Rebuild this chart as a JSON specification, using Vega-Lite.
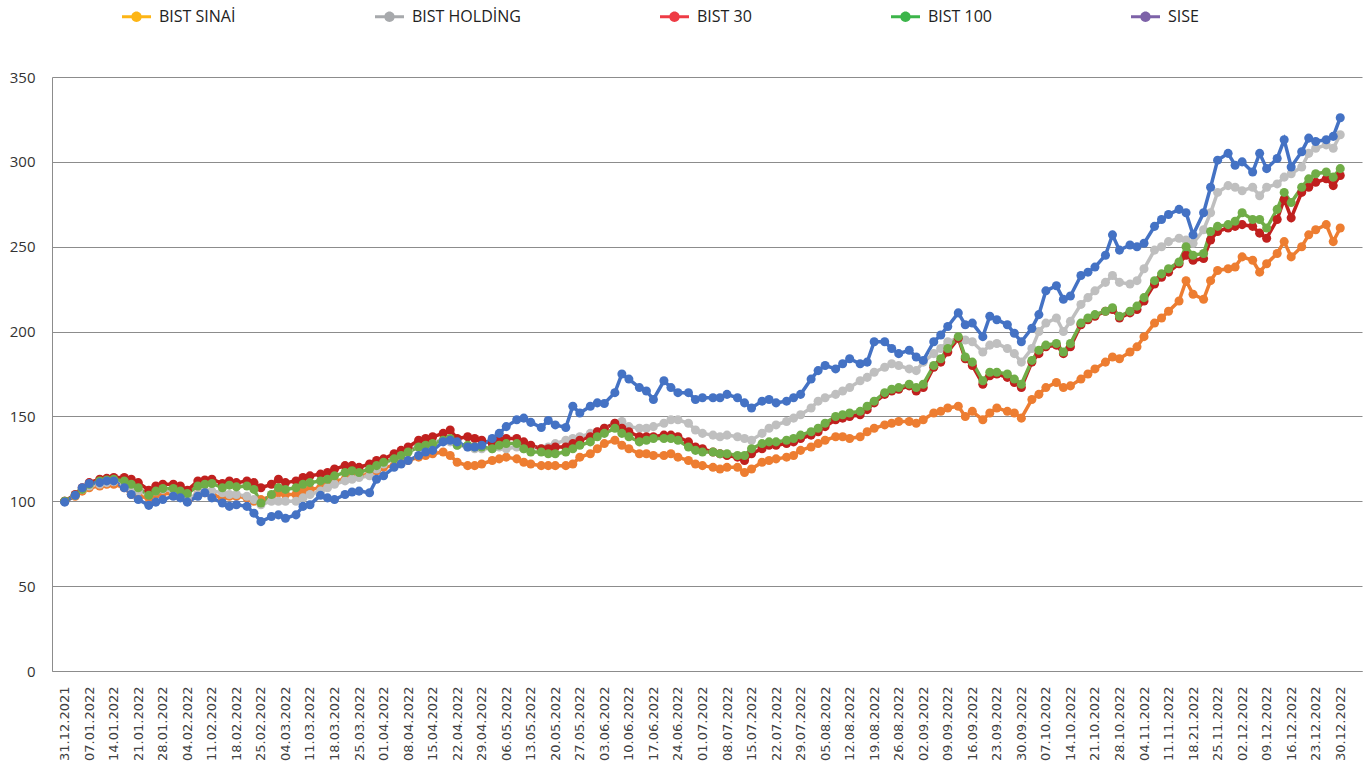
{
"$schema":"https://vega.github.io/schema/vega-lite/v6.json",
"width":1310,"height":594,
"autosize":{"type":"none"},
"padding":{"left":52,"top":77,"right":8,"bottom":98},
"background":"white",
"config":{"view":{"stroke":null}},
"datasets":{
"names":[{"n":"BIST SINAİ"},{"n":"BIST HOLDİNG"},{"n":"BIST 30"},{"n":"BIST 100"},{"n":"SISE"}],
"idx":[
{"x":"2021-12-31","a":100,"b":100,"c":100,"d":100,"e":99.5},
{"x":"2022-01-03","a":103,"b":103.5,"c":104,"d":103.5,"e":103.5},
{"x":"2022-01-05","a":106,"b":107,"c":108,"d":107,"e":108},
{"x":"2022-01-07","a":108,"b":109,"c":111,"d":110,"e":110.5},
{"x":"2022-01-10","a":109,"b":110,"c":113,"d":112,"e":111},
{"x":"2022-01-12","a":110,"b":111,"c":113.5,"d":112.5,"e":112},
{"x":"2022-01-14","a":110,"b":111.5,"c":114,"d":113,"e":112},
{"x":"2022-01-17","a":108,"b":110,"c":114,"d":112,"e":108},
{"x":"2022-01-19","a":104,"b":108,"c":113,"d":110,"e":104},
{"x":"2022-01-21","a":103,"b":106,"c":111,"d":108,"e":101},
{"x":"2022-01-24","a":102,"b":104,"c":106.5,"d":103.5,"e":97.6},
{"x":"2022-01-26","a":104,"b":106,"c":109,"d":106,"e":99.5},
{"x":"2022-01-28","a":105,"b":107,"c":110,"d":107.5,"e":101},
{"x":"2022-01-31","a":104,"b":106,"c":110,"d":107.5,"e":103},
{"x":"2022-02-02","a":103,"b":105,"c":109,"d":106,"e":102},
{"x":"2022-02-04","a":100,"b":102,"c":106.5,"d":104.5,"e":99.5},
{"x":"2022-02-07","a":104,"b":104,"c":112,"d":109,"e":103},
{"x":"2022-02-09","a":105,"b":106,"c":112.5,"d":110,"e":105},
{"x":"2022-02-11","a":104,"b":106,"c":113,"d":110.5,"e":102},
{"x":"2022-02-14","a":102,"b":105,"c":110.5,"d":108,"e":99},
{"x":"2022-02-16","a":103,"b":104,"c":112,"d":109.5,"e":97},
{"x":"2022-02-18","a":103,"b":104,"c":111,"d":108.5,"e":98},
{"x":"2022-02-21","a":102,"b":103,"c":112,"d":109,"e":97},
{"x":"2022-02-23","a":100,"b":101,"c":111,"d":107,"e":93},
{"x":"2022-02-25","a":101,"b":98,"c":108,"d":99,"e":88},
{"x":"2022-02-28","a":103,"b":100,"c":110,"d":104,"e":91},
{"x":"2022-03-02","a":105,"b":100,"c":113,"d":108,"e":92},
{"x":"2022-03-04","a":104,"b":100,"c":111,"d":107,"e":90},
{"x":"2022-03-07","a":104,"b":100,"c":112,"d":108,"e":92},
{"x":"2022-03-09","a":106,"b":102,"c":114,"d":110,"e":97},
{"x":"2022-03-11","a":107,"b":104,"c":115,"d":111,"e":98},
{"x":"2022-03-14","a":108,"b":106,"c":116,"d":112,"e":103.5},
{"x":"2022-03-16","a":110,"b":108,"c":117,"d":113,"e":102},
{"x":"2022-03-18","a":112,"b":110,"c":119,"d":115,"e":101},
{"x":"2022-03-21","a":113,"b":112,"c":121,"d":117,"e":104},
{"x":"2022-03-23","a":114,"b":113,"c":121,"d":118,"e":105.5},
{"x":"2022-03-25","a":115,"b":114,"c":120,"d":117,"e":106},
{"x":"2022-03-28","a":116,"b":115,"c":122,"d":119,"e":105},
{"x":"2022-03-30","a":118,"b":119,"c":124,"d":121,"e":113},
{"x":"2022-04-01","a":120,"b":122,"c":125,"d":123,"e":115},
{"x":"2022-04-04","a":121,"b":125,"c":128,"d":125,"e":120},
{"x":"2022-04-06","a":123,"b":127,"c":130,"d":127,"e":122},
{"x":"2022-04-08","a":124,"b":130,"c":132,"d":129,"e":124},
{"x":"2022-04-11","a":126,"b":132,"c":136,"d":132,"e":127},
{"x":"2022-04-13","a":127,"b":134,"c":137,"d":133,"e":129},
{"x":"2022-04-15","a":128,"b":135,"c":138,"d":134,"e":130},
{"x":"2022-04-18","a":129,"b":136,"c":140,"d":136,"e":135},
{"x":"2022-04-20","a":127,"b":135,"c":142,"d":137,"e":136},
{"x":"2022-04-22","a":123,"b":133,"c":137,"d":133,"e":135},
{"x":"2022-04-25","a":121,"b":132,"c":138,"d":133,"e":132},
{"x":"2022-04-27","a":121,"b":131,"c":137,"d":132,"e":132},
{"x":"2022-04-29","a":122,"b":131,"c":136,"d":132,"e":133},
{"x":"2022-05-02","a":124,"b":131,"c":134,"d":131,"e":137},
{"x":"2022-05-04","a":125,"b":132,"c":136,"d":133,"e":140},
{"x":"2022-05-06","a":126,"b":131,"c":137,"d":134,"e":144},
{"x":"2022-05-09","a":125,"b":132,"c":137,"d":134,"e":148},
{"x":"2022-05-11","a":123,"b":131,"c":135,"d":131,"e":149},
{"x":"2022-05-13","a":122,"b":132,"c":133,"d":129,"e":146.5},
{"x":"2022-05-16","a":121,"b":131,"c":131,"d":129,"e":143.5},
{"x":"2022-05-18","a":121,"b":132,"c":131,"d":128,"e":147.6},
{"x":"2022-05-20","a":121,"b":134,"c":132,"d":128,"e":145},
{"x":"2022-05-23","a":121,"b":136,"c":132,"d":129,"e":143.5},
{"x":"2022-05-25","a":122,"b":137,"c":134,"d":131,"e":156},
{"x":"2022-05-27","a":126,"b":138,"c":136,"d":133,"e":152},
{"x":"2022-05-30","a":128,"b":140,"c":138,"d":135,"e":156},
{"x":"2022-06-01","a":131,"b":141,"c":141,"d":138,"e":158},
{"x":"2022-06-03","a":134,"b":143,"c":143,"d":140,"e":157.6},
{"x":"2022-06-06","a":136,"b":146,"c":146,"d":143,"e":164},
{"x":"2022-06-08","a":133,"b":147,"c":143,"d":140,"e":175},
{"x":"2022-06-10","a":131,"b":144,"c":141,"d":138,"e":172},
{"x":"2022-06-13","a":128,"b":143,"c":138,"d":135,"e":167},
{"x":"2022-06-15","a":128,"b":143,"c":138,"d":136,"e":165},
{"x":"2022-06-17","a":127,"b":144,"c":138,"d":137,"e":160},
{"x":"2022-06-20","a":127,"b":146,"c":139,"d":137,"e":171},
{"x":"2022-06-22","a":128,"b":148,"c":139,"d":137,"e":167},
{"x":"2022-06-24","a":126,"b":148,"c":138,"d":136,"e":164},
{"x":"2022-06-27","a":124,"b":146,"c":135,"d":132,"e":164},
{"x":"2022-06-29","a":122,"b":142,"c":132,"d":130,"e":160},
{"x":"2022-07-01","a":121,"b":140,"c":131,"d":129,"e":161},
{"x":"2022-07-04","a":120,"b":139,"c":129,"d":129,"e":161},
{"x":"2022-07-06","a":119,"b":138,"c":128,"d":128,"e":161},
{"x":"2022-07-08","a":120,"b":139,"c":127,"d":128,"e":163},
{"x":"2022-07-11","a":120,"b":138,"c":126,"d":127,"e":161},
{"x":"2022-07-13","a":117,"b":137,"c":124,"d":127,"e":158},
{"x":"2022-07-15","a":119,"b":136,"c":128,"d":131,"e":155},
{"x":"2022-07-18","a":123,"b":140,"c":131,"d":134,"e":159},
{"x":"2022-07-20","a":124,"b":143,"c":133,"d":135,"e":160},
{"x":"2022-07-22","a":125,"b":145,"c":133,"d":135,"e":158},
{"x":"2022-07-25","a":126,"b":147,"c":134,"d":136,"e":159},
{"x":"2022-07-27","a":127,"b":149,"c":135,"d":137,"e":161},
{"x":"2022-07-29","a":130,"b":151,"c":137,"d":139,"e":163},
{"x":"2022-08-01","a":132,"b":155,"c":139,"d":141,"e":172},
{"x":"2022-08-03","a":134,"b":159,"c":141,"d":143,"e":177},
{"x":"2022-08-05","a":136,"b":161,"c":144,"d":146,"e":180},
{"x":"2022-08-08","a":138,"b":163,"c":148,"d":150,"e":178},
{"x":"2022-08-10","a":138,"b":165,"c":149,"d":151,"e":181},
{"x":"2022-08-12","a":137,"b":167,"c":150,"d":152,"e":184},
{"x":"2022-08-15","a":138,"b":171,"c":151,"d":153,"e":181},
{"x":"2022-08-17","a":141,"b":173,"c":154,"d":156,"e":182},
{"x":"2022-08-19","a":143,"b":176,"c":158,"d":159,"e":194},
{"x":"2022-08-22","a":145,"b":179,"c":163,"d":164,"e":194},
{"x":"2022-08-24","a":146,"b":181,"c":165,"d":166,"e":190},
{"x":"2022-08-26","a":147,"b":180,"c":166,"d":167,"e":187},
{"x":"2022-08-29","a":147,"b":178,"c":168,"d":169,"e":189},
{"x":"2022-08-31","a":146,"b":177,"c":165,"d":167,"e":185},
{"x":"2022-09-02","a":148,"b":182,"c":167,"d":169,"e":183},
{"x":"2022-09-05","a":152,"b":187,"c":179,"d":180,"e":194},
{"x":"2022-09-07","a":153,"b":190,"c":182,"d":184,"e":198},
{"x":"2022-09-09","a":155,"b":194,"c":188,"d":190,"e":203},
{"x":"2022-09-12","a":156,"b":196,"c":196,"d":197,"e":211},
{"x":"2022-09-14","a":150,"b":195,"c":184,"d":185,"e":204},
{"x":"2022-09-16","a":153,"b":194,"c":180,"d":182,"e":205},
{"x":"2022-09-19","a":148,"b":188,"c":169,"d":171,"e":197},
{"x":"2022-09-21","a":152,"b":192,"c":174,"d":176,"e":209},
{"x":"2022-09-23","a":155,"b":193,"c":175,"d":176,"e":207},
{"x":"2022-09-26","a":153,"b":190,"c":173,"d":175,"e":204},
{"x":"2022-09-28","a":152,"b":187,"c":170,"d":172,"e":199},
{"x":"2022-09-30","a":149,"b":182,"c":167,"d":169,"e":194},
{"x":"2022-10-03","a":160,"b":190,"c":182,"d":183,"e":202},
{"x":"2022-10-05","a":163,"b":200,"c":187,"d":189,"e":210},
{"x":"2022-10-07","a":167,"b":205,"c":191,"d":192,"e":224},
{"x":"2022-10-10","a":170,"b":208,"c":192,"d":193,"e":227},
{"x":"2022-10-12","a":167,"b":200,"c":187,"d":188,"e":219},
{"x":"2022-10-14","a":168,"b":206,"c":191,"d":193,"e":221},
{"x":"2022-10-17","a":172,"b":216,"c":204,"d":205,"e":233},
{"x":"2022-10-19","a":175,"b":220,"c":207,"d":208,"e":235},
{"x":"2022-10-21","a":178,"b":224,"c":209,"d":210,"e":238},
{"x":"2022-10-24","a":182,"b":229,"c":212,"d":212,"e":245},
{"x":"2022-10-26","a":185,"b":233,"c":213,"d":214,"e":257},
{"x":"2022-10-28","a":184,"b":229,"c":208,"d":209,"e":248},
{"x":"2022-10-31","a":188,"b":228,"c":211,"d":212,"e":251},
{"x":"2022-11-02","a":191,"b":230,"c":213,"d":215,"e":250},
{"x":"2022-11-04","a":197,"b":237,"c":218,"d":220,"e":252},
{"x":"2022-11-07","a":205,"b":248,"c":228,"d":230,"e":262},
{"x":"2022-11-09","a":208,"b":250,"c":232,"d":234,"e":266},
{"x":"2022-11-11","a":212,"b":253,"c":235,"d":237,"e":269},
{"x":"2022-11-14","a":218,"b":255,"c":240,"d":241,"e":272},
{"x":"2022-11-16","a":230,"b":254,"c":245,"d":250,"e":270},
{"x":"2022-11-18","a":222,"b":252,"c":242,"d":245,"e":257},
{"x":"2022-11-21","a":219,"b":260,"c":243,"d":246,"e":270},
{"x":"2022-11-23","a":230,"b":270,"c":254,"d":259,"e":285},
{"x":"2022-11-25","a":236,"b":282,"c":259,"d":262,"e":301},
{"x":"2022-11-28","a":237,"b":286,"c":261,"d":263,"e":305},
{"x":"2022-11-30","a":238,"b":285,"c":262,"d":265,"e":298},
{"x":"2022-12-02","a":244,"b":283,"c":263,"d":270,"e":300},
{"x":"2022-12-05","a":242,"b":285,"c":262,"d":266,"e":294},
{"x":"2022-12-07","a":235,"b":280,"c":258,"d":266,"e":305},
{"x":"2022-12-09","a":240,"b":285,"c":255,"d":261,"e":296},
{"x":"2022-12-12","a":246,"b":287,"c":266,"d":272,"e":302},
{"x":"2022-12-14","a":253,"b":291,"c":278,"d":282,"e":313},
{"x":"2022-12-16","a":244,"b":293,"c":267,"d":276,"e":297},
{"x":"2022-12-19","a":250,"b":297,"c":282,"d":285,"e":306},
{"x":"2022-12-21","a":257,"b":305,"c":285,"d":290,"e":314},
{"x":"2022-12-23","a":260,"b":308,"c":288,"d":293,"e":312},
{"x":"2022-12-26","a":263,"b":310,"c":290,"d":294,"e":313},
{"x":"2022-12-28","a":253,"b":308,"c":286,"d":291,"e":315},
{"x":"2022-12-30","a":261,"b":316,"c":292,"d":296,"e":326}
]},
"layer":[
{
"data":{"name":"idx"},
"transform":[{"fold":["a","b","c","d","e"],"as":["k","v"]}],
"encoding":{
"x":{"field":"x","type":"temporal","scale":{"domain":[1640595600000,1672894800000],"nice":false},
"axis":{"title":null,"values":[1640908800000,1641513600000,1642118400000,1642723200000,1643328000000,1643932800000,1644537600000,1645142400000,1645747200000,1646352000000,1646956800000,1647561600000,1648166400000,1648771200000,1649376000000,1649980800000,1650585600000,1651190400000,1651795200000,1652400000000,1653004800000,1653609600000,1654214400000,1654819200000,1655424000000,1656028800000,1656633600000,1657238400000,1657843200000,1658448000000,1659052800000,1659657600000,1660262400000,1660867200000,1661472000000,1662076800000,1662681600000,1663286400000,1663891200000,1664496000000,1665100800000,1665705600000,1666310400000,1666915200000,1667520000000,1668124800000,1668729600000,1669334400000,1669939200000,1670544000000,1671148800000,1671753600000,1672358400000],
"labelExpr":"utcFormat(datum.value, '%d.%m.%Y') == '18.11.2022' ? '18.21.2022' : utcFormat(datum.value, '%d.%m.%Y')",
"labelAngle":-90,"labelFont":"DejaVu Sans","labelFontSize":13,"labelColor":"#404040","labelPadding":15,"labelOverlap":false,"labelFlush":false,
"ticks":false,"grid":false,"domainColor":"#8c8c8c","domainWidth":1}},
"y":{"field":"v","type":"quantitative","scale":{"domain":[0,350],"nice":false,"zero":true},
"axis":{"title":null,"values":[0,50,100,150,200,250,300,350],"labelFont":"Open Sans","labelFontSize":15,"labelColor":"#333333","labelPadding":17,"ticks":false,"grid":true,"gridColor":"#8c8c8c","gridWidth":1,"domainColor":"#8c8c8c","domainWidth":1}},
"color":{"field":"k","type":"nominal","scale":{"domain":["a","b","c","d","e"],"range":["#ED7D31","#BFBFBF","#C0201E","#70AD47","#4472C4"]},"legend":null}
},
"layer":[
{"mark":{"type":"line","strokeWidth":3.5}},
{"mark":{"type":"point","filled":true,"size":82,"opacity":1,"strokeWidth":0},"encoding":{"order":{"field":"k","type":"ordinal"}}}
]
},
{
"data":{"name":"names"},
"transform":[{"filter":"false"}],
"mark":{"type":"point","filled":true,"opacity":1},
"encoding":{"color":{"field":"n","type":"nominal","scale":{"domain":["BIST SINAİ","BIST HOLDİNG","BIST 30","BIST 100","SISE"],"range":["#FDB515","#A7A9AC","#EE3B45","#3CB54A","#7D62A8"]},
"legend":{"title":null,"orient":"none","legendX":70,"legendY":-75,"direction":"horizontal","columns":5,"columnPadding":139,"padding":0,
"symbolType":"M-1,-0.1H1V0.1H-1Z M0.36,0A0.36,0.36,0,1,1,-0.36,0A0.36,0.36,0,1,1,0.36,0Z","symbolSize":841,"symbolStrokeWidth":0,"symbolOpacity":1,
"labelFont":"Open Sans","labelFontSize":16,"labelColor":"#222222","labelOffset":8}}}
}
],
"resolve":{"scale":{"color":"independent"}}
}
